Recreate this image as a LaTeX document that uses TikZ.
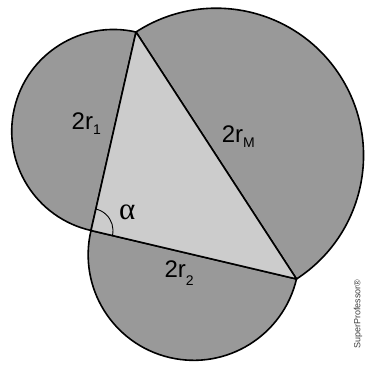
\documentclass[tikz,border=0pt]{standalone}
\usepackage{fontspec}
\setmainfont{Liberation Sans}
\newfontfamily\greekfont{Liberation Serif}
\usetikzlibrary{calc}
\definecolor{lunegray}{HTML}{999999}
\definecolor{trigray}{HTML}{CCCCCC}
\newcommand\lsub[2]{\raisebox{-#1pt}{\fontsize{14}{14}\selectfont #2}}
\tikzset{
  lune/.style={fill=lunegray, draw=black, line width=1.6pt, line join=round},
  edge/.style={draw=black, line width=1.6pt, line join=round},
  lbl/.style={font=\fontsize{24}{24}\selectfont, inner sep=0pt, anchor=base west},
  anglearc/.style={draw=black, line width=0.9pt},
  wmark/.style={font=\fontsize{9}{9}\selectfont, text=black!75, inner sep=0pt, rotate=90},
}
\begin{document}
\begin{tikzpicture}[x=1pt,y=1pt]
\useasboundingbox (0,0) rectangle (365,367);
\coordinate (A) at (136,335);
\coordinate (B) at (91,136.5);
\coordinate (C) at (296.5,88);
% semicircles on the sides
\foreach \P/\Q in {A/B,B/C,C/A}{
  \path[lune] let \p1=($(\P)-(\Q)$), \n1={atan2(\y1,\x1)}, \n2={veclen(\x1,\y1)/2}
    in (\P) arc[start angle=\n1, delta angle=180, radius=\n2] -- cycle;
}
% triangle
\filldraw[fill=trigray, edge] (A) -- (B) -- (C) -- cycle;
% angle mark at B
\draw[anglearc] let \p1=($(C)-(B)$), \p2=($(A)-(B)$), \n1={atan2(\y1,\x1)}, \n2={atan2(\y2,\x2)}
  in ($(B)!22pt!(C)$) arc[start angle=\n1, end angle=\n2, radius=22pt];
% labels
\node[lbl] (l1) at (71.5,237) {2r\lsub{5}{1}};
\node[lbl] (l2) at (164.3,89.7) {2r\lsub{8}{2}};
\node[lbl] (lM) at (221.7,224.7) {2r\lsub{5}{M}};
\node[lbl, font=\greekfont\fontsize{31}{31}\selectfont] (la) at (119,147) {α};
\node[wmark] (wm) at (358,53) {SuperProfessor®};
\end{tikzpicture}
\end{document}
